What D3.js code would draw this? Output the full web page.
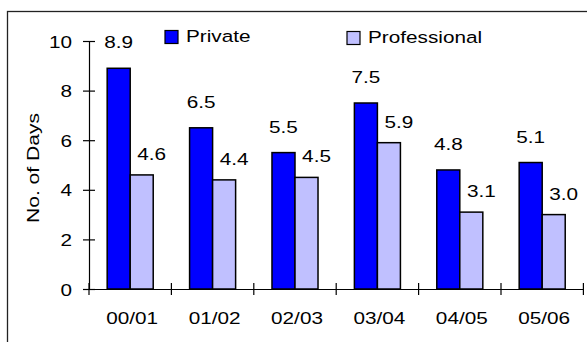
<!DOCTYPE html>
<html>
<head>
<meta charset="utf-8">
<script src="https://cdn.jsdelivr.net/npm/d3@7"></script>
<style>
  body { margin: 0; background: #fff; }
  svg text { font-family: "Liberation Sans", Arial, sans-serif; fill: #000; }
</style>
</head>
<body>
<div id="chart"></div>
<script>
const WIDTH = 587;
const HEIGHT = 342;

const categories = ["00/01", "01/02", "02/03", "03/04", "04/05", "05/06"];
const series = ["Private", "Professional"];
const privateDays = [8.9, 6.5, 5.5, 7.5, 4.8, 5.1];
const professionalDays = [4.6, 4.4, 4.5, 5.9, 3.1, 3.0];
const yTicks = [0, 2, 4, 6, 8, 10];
const colors = { Private: "#0000ff", Professional: "#c0c0ff" };

const FONT = 17;
const SX = 1.22; // text in the original is wide

const svg = d3.select("#chart").append("svg")
   .attr("width", WIDTH)
   .attr("height", HEIGHT);

// frame
svg.append("rect")
   .attr("x", 7.5).attr("y", 11.5)
   .attr("width", 620).attr("height", 400)
   .attr("fill", "none")
   .attr("stroke", "#222")
   .attr("stroke-width", 1.3);

const x0 = d3.scaleBand().domain(categories).range([89, 583.4]).paddingInner(0).paddingOuter(0);
const x1 = d3.scaleBand().domain(series).range([0, x0.bandwidth()]).paddingInner(0).paddingOuter(0.79);
const y = d3.scaleLinear().domain([0, 10]).range([289, 41]);

function addText(g, x, yy, str, anchor) {
   return g.append("text")
      .attr("transform", "translate(" + x + "," + yy + ") scale(" + SX + ",1)")
      .attr("text-anchor", anchor || "middle")
      .style("font-size", FONT + "px")
      .text(str);
}

const rows = categories.map((c, i) => ({ cat: c, Private: privateDays[i], Professional: professionalDays[i] }));

// bars
const groups = svg.append("g").selectAll("g")
   .data(rows).join("g")
   .attr("transform", d => "translate(" + x0(d.cat) + ",0)");

groups.selectAll("rect")
   .data(d => series.map(s => ({ key: s, value: d[s] })))
   .join("rect")
   .attr("x", d => x1(d.key))
   .attr("y", d => y(d.value))
   .attr("width", x1.bandwidth())
   .attr("height", d => y(0) - y(d.value))
   .attr("fill", d => colors[d.key])
   .attr("stroke", "#000")
   .attr("stroke-width", 1.5);

// value labels
groups.each(function(d) {
   const g = d3.select(this);
   addText(g, x1("Private") + x1.bandwidth() / 2, y(d.Private) - 20, d.Private.toFixed(1));
   addText(g, x1("Professional") + x1.bandwidth() / 2 + 10, y(d.Professional) - 15, d.Professional.toFixed(1));
});

// Y axis
const yAxis = svg.append("g")
   .attr("transform", "translate(89,0)")
   .call(d3.axisLeft(y).tickValues(yTicks).tickFormat(d3.format("d")).tickSizeOuter(0));
yAxis.select(".domain").attr("stroke", "#000").attr("stroke-width", 1.2);
yAxis.selectAll(".tick line").attr("x1", -6).attr("x2", 6).attr("stroke", "#000").attr("stroke-width", 1.2);
yAxis.selectAll(".tick text")
   .attr("x", null).attr("dy", null)
   .attr("transform", "translate(-17,6) scale(" + SX + ",1)")
   .style("font-size", FONT + "px")
   .style("font-family", "Liberation Sans, Arial, sans-serif");

// X axis
const xAxis = svg.append("g")
   .attr("transform", "translate(0,289)")
   .call(d3.axisBottom(x0).tickSize(0).tickSizeOuter(0));
xAxis.select(".domain").attr("stroke", "#000").attr("stroke-width", 1.2);
xAxis.selectAll(".tick text")
   .attr("y", null).attr("dy", null)
   .attr("transform", "translate(2,35) scale(" + SX + ",1)")
   .style("font-size", FONT + "px")
   .style("font-family", "Liberation Sans, Arial, sans-serif");

const bounds = categories.map(c => x0(c)).concat([x0.range()[1]]);
svg.append("g").selectAll("line")
   .data(bounds).join("line")
   .attr("x1", d => d).attr("x2", d => d)
   .attr("y1", y(0) - 6).attr("y2", y(0) + 6)
   .attr("stroke", "#000").attr("stroke-width", 1.2);

// Y title
svg.append("text")
   .attr("transform", "translate(39,168) rotate(-90) scale(1.24,1)")
   .attr("text-anchor", "middle")
   .style("font-size", FONT + "px")
   .text("No. of Days");

// legend
const legendX = [165, 347];
const legend = svg.append("g");
series.forEach((s, i) => {
   legend.append("rect")
      .attr("x", legendX[i]).attr("y", 30.5 + i)
      .attr("width", 13).attr("height", 13)
      .attr("fill", colors[s])
      .attr("stroke", "#000").attr("stroke-width", 1.2);
   addText(legend, legendX[i] + 21, 42 + i, s, "start");
});
</script>
</body>
</html>
